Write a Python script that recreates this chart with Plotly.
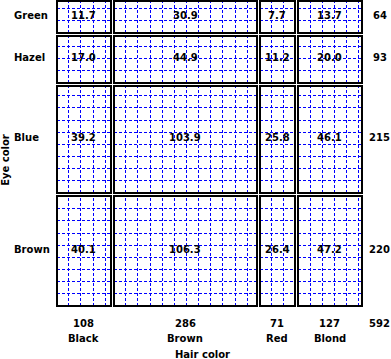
import math
import plotly.graph_objects as go

# ---- data ----
hair_colors = ["Black", "Brown", "Red", "Blond"]
hair_totals = [108, 286, 71, 127]
eye_colors = ["Green", "Hazel", "Blue", "Brown"]      # top to bottom
eye_totals = [64, 93, 215, 220]
grand_total = 592
expected = [
    [11.7, 30.9, 7.7, 13.7],
    [17.0, 44.9, 11.2, 20.0],
    [39.2, 103.9, 25.8, 46.1],
    [40.1, 106.3, 26.4, 47.2],
]

GAP = 6
FONT = "DejaVu Sans"
FS = 10

# column positions (left edge, width) in data units
col_pos = []
x = 0
for c in hair_totals:
    col_pos.append((x, c))
    x += c + GAP
x_total = x - GAP

# row positions, bottom-up (last row at bottom)
row_pos = [None] * len(eye_totals)
y = 0
for i in range(len(eye_totals) - 1, -1, -1):
    row_pos[i] = (y, eye_totals[i])
    y += eye_totals[i] + GAP
y_total = y - GAP

side = math.sqrt(grand_total)

fig = go.Figure()

# grid lines
gx, gy = [], []
for i, (y0, h) in enumerate(row_pos):
    for j, (x0, w) in enumerate(col_pos):
        k = 1
        while x0 + k * side < x0 + w - 0.5:
            xv = x0 + k * side
            gx += [xv, xv, None]
            gy += [y0, y0 + h, None]
            k += 1
        k = 1
        while y0 + k * side < y0 + h - 0.5:
            yv = y0 + k * side
            gx += [x0, x0 + w, None]
            gy += [yv, yv, None]
            k += 1
fig.add_trace(go.Scatter(x=gx, y=gy, mode="lines",
                         line=dict(color="#0000ff", width=1, dash="3px,2px"),
                         hoverinfo="skip", showlegend=False))

# cell rectangles and values
for i, (y0, h) in enumerate(row_pos):
    for j, (x0, w) in enumerate(col_pos):
        fig.add_shape(type="rect", xref="x", yref="y", x0=x0, x1=x0 + w,
                      y0=y0, y1=y0 + h, line=dict(color="black", width=2))
        fig.add_annotation(x=x0 + w / 2, y=y0 + h / 2, xref="x", yref="y",
                           text="<b>%.1f</b>" % expected[i][j], showarrow=False,
                           xanchor="center", yshift=2,
                           font=dict(family=FONT, size=FS, color="black"))

# row labels and row totals
for i, (y0, h) in enumerate(row_pos):
    fig.add_annotation(x=-0.135, xref="paper", y=y0 + h / 2, yref="y",
                       text="<b>%s</b>" % eye_colors[i], showarrow=False,
                       xanchor="left", yshift=2,
                       font=dict(family=FONT, size=FS, color="black"))
    fig.add_annotation(x=1.05, xref="paper", y=y0 + h / 2, yref="y",
                       text="<b>%d</b>" % eye_totals[i], showarrow=False,
                       xanchor="center", yshift=2,
                       font=dict(family=FONT, size=FS, color="black"))

# column totals and labels
for j, (x0, w) in enumerate(col_pos):
    fig.add_annotation(x=x0 + w / 2, xref="x", y=-0.05, yref="paper",
                       text="<b>%d</b>" % hair_totals[j], showarrow=False,
                       xanchor="center", yanchor="middle",
                       font=dict(family=FONT, size=FS, color="black"))
    fig.add_annotation(x=x0 + w / 2, xref="x", y=-0.099, yref="paper",
                       text="<b>%s</b>" % hair_colors[j], showarrow=False,
                       xanchor="center", yanchor="middle",
                       font=dict(family=FONT, size=FS, color="black"))
fig.add_annotation(x=1.05, xref="paper", y=-0.05, yref="paper",
                   text="<b>%d</b>" % grand_total, showarrow=False,
                   xanchor="center", yanchor="middle",
                   font=dict(family=FONT, size=FS, color="black"))

# axis titles
fig.add_annotation(x=0.48, xref="paper", y=-0.152, yref="paper",
                   text="<b>Hair color</b>", showarrow=False,
                   xanchor="center", yanchor="middle",
                   font=dict(family=FONT, size=FS, color="black"))
fig.add_annotation(x=-0.159, xref="paper", y=0.48, yref="paper",
                   text="<b>Eye color</b>", showarrow=False, textangle=-90,
                   xanchor="center", yanchor="middle",
                   font=dict(family=FONT, size=FS, color="black"))

fig.update_xaxes(visible=False, range=[-5, x_total + 5], fixedrange=True)
fig.update_yaxes(visible=False, range=[-4, y_total + 2], fixedrange=True)
fig.update_layout(width=391, height=359,
                  margin=dict(l=54, r=27, t=0, b=51),
                  plot_bgcolor="white", paper_bgcolor="white",
                  showlegend=False)

fig.write_html(
    "out.html", config={"displayModeBar": False},
    post_script=(
        "document.body.style.margin='0';"
        "document.body.style.overflow='hidden';"
        "document.querySelectorAll('.js-line, .shapelayer path')"
        ".forEach(function(e){e.style.shapeRendering='crispEdges';});"
    ),
)
